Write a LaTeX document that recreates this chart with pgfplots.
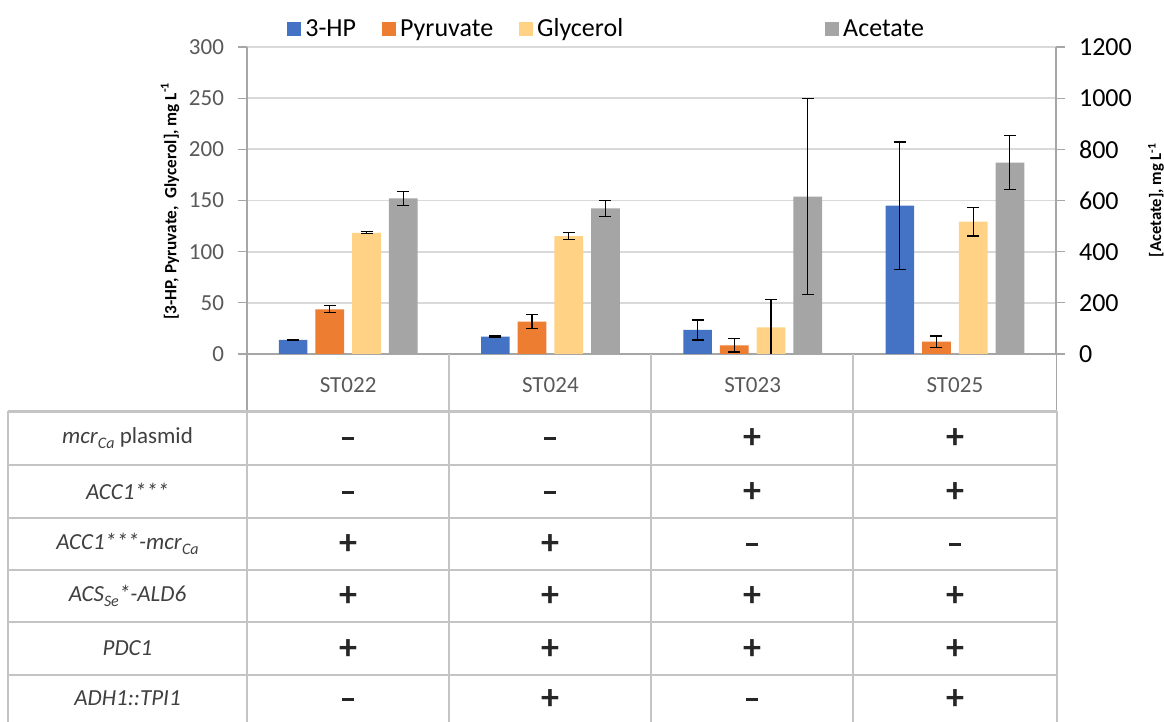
\documentclass[border=0pt]{standalone}
\usepackage{pgfplots}
\usepackage{pgfplotstable}
\pgfplotsset{compat=1.18}
\usepackage{fontspec}
\setmainfont{Carlito}

\definecolor{hpblue}{HTML}{4472C4}
\definecolor{pyrorange}{HTML}{ED7D31}
\definecolor{glyyellow}{HTML}{FFD285}
\definecolor{acegray}{HTML}{A5A5A5}
\definecolor{axisgray}{HTML}{A6A6A6}
\definecolor{gridgray}{HTML}{D9D9D9}
\definecolor{tickgray}{HTML}{595959}
\definecolor{tablegray}{HTML}{C4C4C4}
\definecolor{labelgray}{HTML}{404040}
\definecolor{signgray}{HTML}{262626}

% concentrations (mg/L) per strain: index, mean, error
\pgfplotstableread{
x  y      e
0  13.7   0.5
1  17.0   0.5
2  23.5   9.8
3  144.9  62.2
}\hpdata
\pgfplotstableread{
x  y      e
0  43.7   3.3
1  31.7   6.9
2  8.5    6.5
3  12.0   5.5
}\pyrdata
\pgfplotstableread{
x  y      e
0  118.4  1.0
1  115.2  3.5
2  26.1   27.3
3  129.3  14.0
}\glydata
\pgfplotstableread{
x  y      e
0  608    28
1  569    31
2  615    383
3  748    106
}\acedata

\pgfplotsset{
  sqlegend/.style={legend image code/.code={\fill[##1] (0pt,-3.5pt) rectangle (7pt,3.5pt);}},
  errs/.style={error bars/.cd, y dir=both, y explicit,
    error bar style={line width=0.6pt, black},
    error mark options={rotate=90, mark size=3pt, line width=0.6pt, black}},
}
\newcommand{\sub}[1]{\raisebox{-0.45ex}{\fontsize{8}{8}\selectfont\itshape #1}}

\begin{document}
\begin{tikzpicture}
\path[use as bounding box] (0,0) rectangle (582pt,361pt);

\begin{axis}[
  at={(123.5pt,184pt)}, anchor=south west,
  scale only axis, width=404.5pt, height=153.5pt,
  xmin=-0.5, xmax=3.5, ymin=0, ymax=300,
  ybar, bar width=0.142,
  axis x line*=bottom, axis y line*=left,
  axis line style={draw=axisgray, line width=0.6pt},
  ytick={0,50,...,300},
  ymajorgrids, grid style={draw=gridgray, line width=0.9pt},
  xtick={0,1,2,3}, xticklabels={ST022,ST024,ST023,ST025},
  x tick style={draw=none},
  y tick style={draw=axisgray, line width=0.6pt},
  tick align=outside, major tick length=4.5pt,
  xticklabel style={anchor=center, yshift=-11pt, font=\fontsize{11.5}{13}\selectfont, text=tickgray},
  yticklabel style={font=\fontsize{11.5}{13}\selectfont, text=tickgray, xshift=-3.5pt},
  /pgf/number format/assume math mode=true,
  legend columns=4,
  legend style={at={(0.0494,1.058)}, anchor=west, draw=none, fill=none, inner sep=0pt,
    font=\fontsize{13}{15}\selectfont,
    /tikz/every even column/.append style={column sep=11pt}},
  legend cell align=left,
]
\addplot[fill=hpblue, draw=none, bar shift=-0.272, sqlegend, errs]
  table[x=x, y=y, y error=e] {\hpdata};
\addlegendentry{3-HP}
\addplot[fill=pyrorange, draw=none, bar shift=-0.091, sqlegend, errs]
  table[x=x, y=y, y error=e] {\pyrdata};
\addlegendentry{Pyruvate}
\addplot[fill=glyyellow, draw=none, bar shift=0.091, sqlegend, errs]
  table[x=x, y=y, y error=e] {\glydata};
\addlegendentry{Glycerol\hspace*{88pt}}
\addlegendimage{fill=acegray, draw=none, sqlegend}
\addlegendentry{Acetate}
\end{axis}

\begin{axis}[
  at={(123.5pt,184pt)}, anchor=south west,
  scale only axis, width=404.5pt, height=153.5pt,
  xmin=-0.5, xmax=3.5, ymin=0, ymax=1200,
  ybar, bar width=0.142,
  axis x line=none, axis y line*=right,
  axis line style={draw=axisgray, line width=0.6pt},
  ytick={0,200,...,1200},
  y tick style={draw=axisgray, line width=0.6pt},
  tick align=outside, major tick length=4.5pt,
  yticklabel style={font=\fontsize{13}{15}\selectfont, text=black, xshift=3.5pt,
    /pgf/number format/1000 sep={}},
  /pgf/number format/assume math mode=true,
]
\addplot[fill=acegray, draw=none, bar shift=0.272, errs]
  table[x=x, y=y, y error=e] {\acedata};
\end{axis}

% axis titles
\node[rotate=90, font=\fontsize{8.6}{10}\selectfont\bfseries] at (85pt,260.5pt)
  {[3-HP, Pyruvate,\ \ Glycerol], mg L\textsuperscript{-1}};
\node[rotate=90, font=\fontsize{8.3}{10}\selectfont\bfseries] at (578pt,261pt)
  {[Acetate], mg L\textsuperscript{-1}};

% separators under the category labels
\foreach \xx in {224.5,325.5,426.5}
  \draw[tablegray, line width=0.6pt] (\xx pt,184pt) -- (\xx pt,155.25pt);
\draw[axisgray, line width=0.6pt] (123.5pt,184pt) -- (123.5pt,155.25pt);
\draw[axisgray, line width=0.6pt] (528.25pt,184pt) -- (528.25pt,155.25pt);

% genotype table
\foreach \yy in {155.25,128.5,102,76,50,23.5}
  \draw[tablegray, line width=1.3pt] (4pt,\yy pt) -- (528.5pt,\yy pt);
\foreach \xx in {4,123.5,224.5,325.5,426.5,528.5}
  \draw[tablegray, line width=1.3pt] (\xx pt,155.25pt) -- (\xx pt,-5pt);

\begin{scope}[every node/.style={text=labelgray, font=\fontsize{11.5}{13}\selectfont}]
\node at (63.75pt,142pt) {\textit{mcr}\sub{Ca} plasmid};
\node at (63.75pt,115.25pt) {\textit{ACC1***}};
\node at (63.75pt,89pt) {\textit{ACC1***-mcr}\sub{Ca}};
\node at (63.75pt,63pt) {\textit{ACS}\sub{Se}\textit{*-ALD6}};
\node at (63.75pt,36.75pt) {\textit{PDC1}};
\node at (63.75pt,11.75pt) {\textit{ADH1::TPI1}};
\end{scope}

\newcommand{\yes}{\raisebox{-0.3ex}{+}}
\newcommand{\no}{\raisebox{0.2ex}{\rule{6pt}{1.5pt}}}
\begin{scope}[every node/.style={text=signgray, font=\fontsize{18}{20}\selectfont\bfseries}]
% rows: mcr plasmid, ACC1***, ACC1***-mcr, ACS-ALD6, PDC1, ADH1::TPI1
\foreach \yy/\a/\b/\c/\d in {
    142/\no/\no/\yes/\yes,
    115.25/\no/\no/\yes/\yes,
    89/\yes/\yes/\no/\no,
    63/\yes/\yes/\yes/\yes,
    36.75/\yes/\yes/\yes/\yes,
    11.75/\no/\yes/\no/\yes}{
  \node[text height=1.2ex, text depth=0pt] at (174pt,\yy pt) {\a};
  \node[text height=1.2ex, text depth=0pt] at (275pt,\yy pt) {\b};
  \node[text height=1.2ex, text depth=0pt] at (376pt,\yy pt) {\c};
  \node[text height=1.2ex, text depth=0pt] at (477.5pt,\yy pt) {\d};
}
\end{scope}
\end{tikzpicture}
\end{document}
